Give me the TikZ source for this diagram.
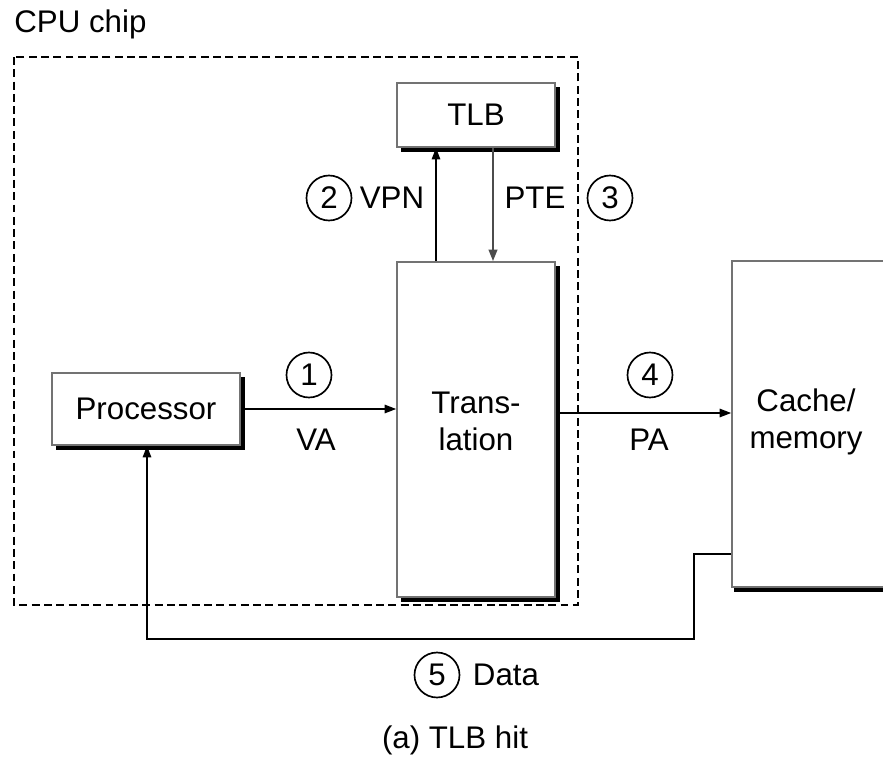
\documentclass[tikz,border=0pt]{standalone}
\usepackage{fontspec}
\setmainfont{Liberation Sans}
\usetikzlibrary{calc,arrows.meta}
\begin{document}
\begin{tikzpicture}[x=0.02cm,y=-0.02cm,
  every node/.style={font=\fontsize{17.8}{21}\selectfont},
  box/.style={draw=black!55, line width=1pt, fill=white, inner sep=0pt},
  shd/.style={line width=1.9pt, black},
  arr/.style={line width=0.8pt, -{Triangle[length=6.5pt,width=4.8pt]}},
  num/.style={draw, circle, line width=0.95pt, minimum size=0.9cm, inner sep=0pt},
  chip/.style={dashed, line width=1.1pt, dash pattern=on 4.5pt off 2.5pt}]
\clip (0,0) rectangle (883,761);
\fill[white] (0,0) rectangle (883,761);

% CPU chip boundary
\node[anchor=west, inner sep=0pt] (cpulbl) at (14,24) {CPU chip};
\draw[chip] (14,57) rectangle (578,605);

% boxes
\node[box, minimum width=3.16cm, minimum height=1.28cm] (tlb) at (476,115) {TLB};
\node[box, minimum width=3.16cm, minimum height=6.7cm] (trans) at (476,429.5) {};
\node[align=center, inner sep=0pt] (transtxt) at (476,421) {Trans-\\lation};
\node[box, minimum width=3.76cm, minimum height=1.44cm] (proc) at (146,409) {Processor};
\node[box, minimum width=3.6cm, minimum height=6.52cm] (cache) at (822,424) {};
\node[align=center, inner sep=0pt] (cachetxt) at (806,422) {Cache/\\memory};

% shadows
\foreach \b in {tlb,trans,proc}{
  \draw[shd] ($(\b.north east)+(2,5)$) -- ($(\b.south east)+(2,2)$) -- ($(\b.south west)+(5,2)$);
}
\draw[shd] ($(cache.south west)+(3,2)$) -- ($(cache.south east)+(3,2)$);

% connectors
\draw[arr] (proc.east) -- (proc.east -| trans.west);
\draw[arr] ([xshift=-0.8cm]trans.north) -- ([xshift=-0.8cm]tlb.south);
\draw[arr, line width=1.3pt, black!70] ([xshift=0.34cm]tlb.south) -- ([xshift=0.34cm]trans.north);
\draw[arr] (trans.east |- 0,413) -- (cache.west |- 0,413);
\draw[arr] (cache.west |- 0,554) -- (694,554) -- (694,639) -- (147,639) -- (proc.south -| 147,0);

% labels
\node[num] (c1) at (309,375) {1};
\node (va) at (316,440) {VA};
\node[num] (c2) at (329,198) {2};
\node (vpn) at (392,198) {VPN};
\node (pte) at (535,198) {PTE};
\node[num] (c3) at (610,198) {3};
\node[num] (c4) at (650,375) {4};
\node (pa) at (649,440) {PA};
\node[num] (c5) at (437,675) {5};
\node (data) at (506,675) {Data};
\node (cap) at (455,740) {(a) TLB hit};
\end{tikzpicture}
\end{document}
